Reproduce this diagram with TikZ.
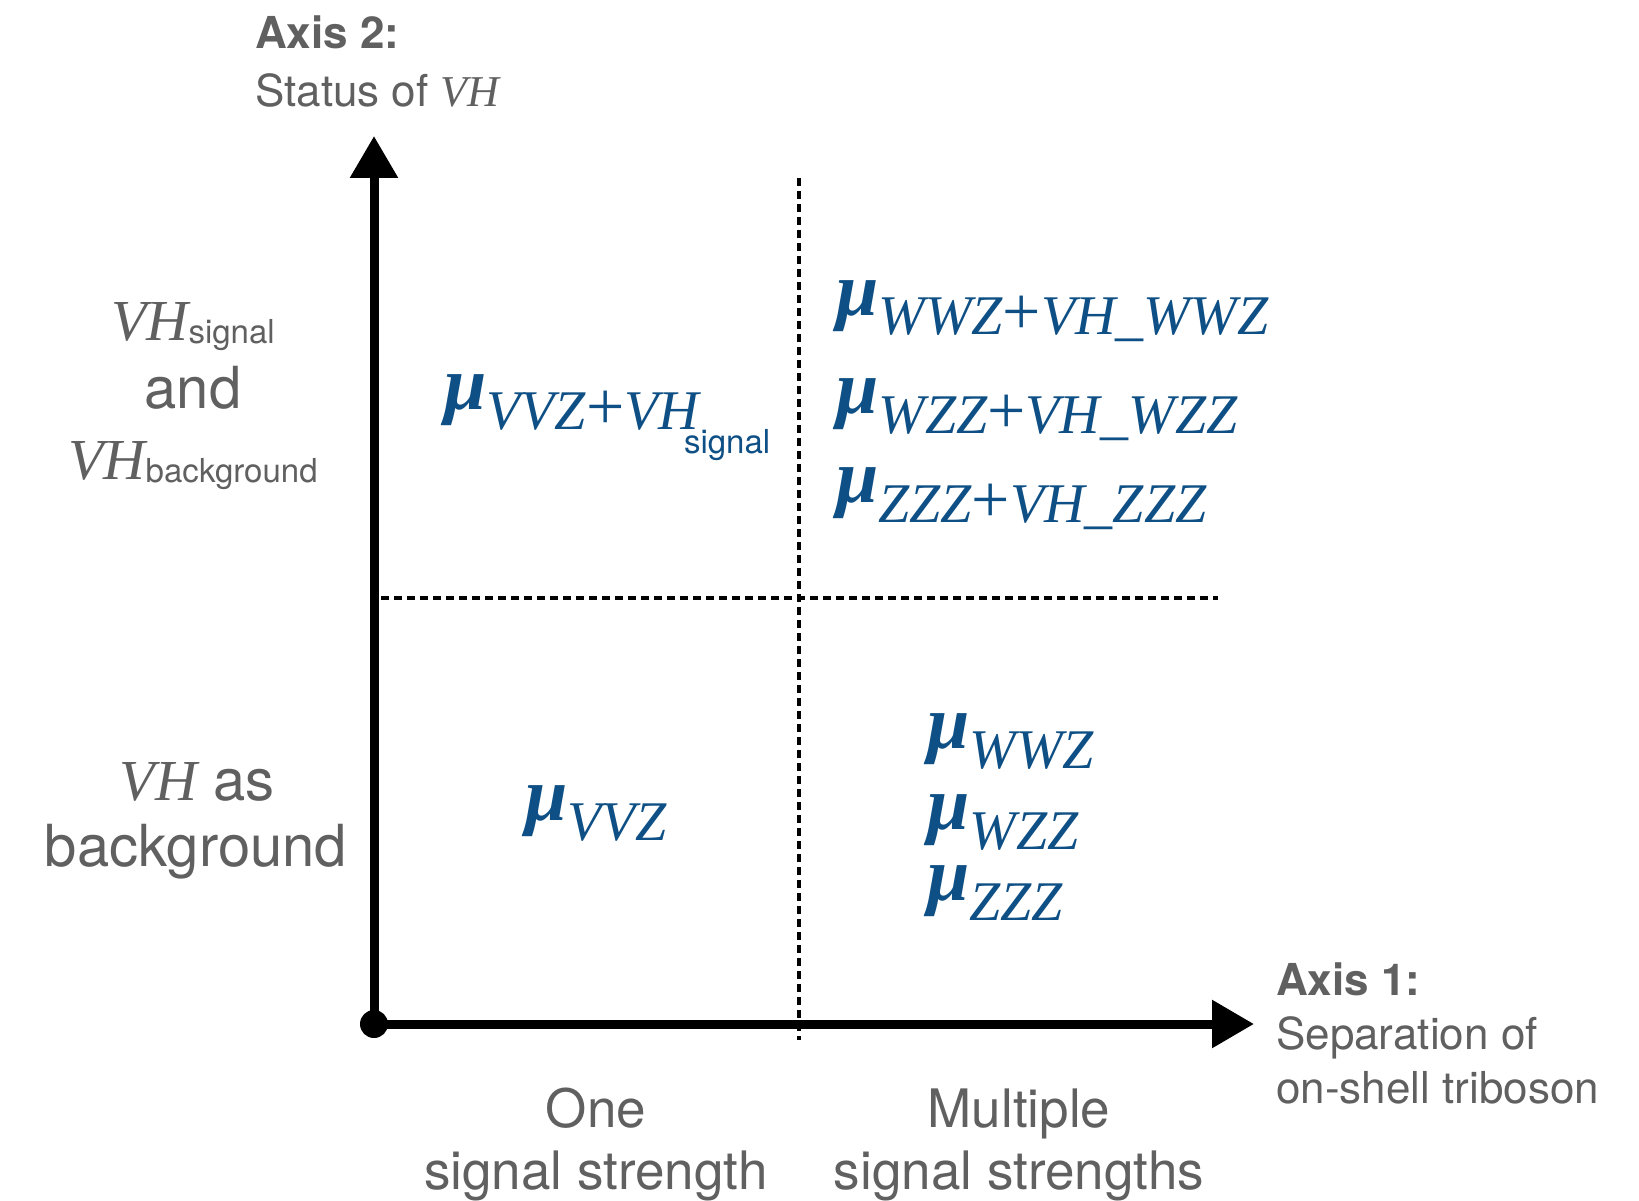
\documentclass[tikz,border=0pt]{standalone}
\usepackage{fontspec}
\setmainfont{TeX Gyre Heros}
\newfontfamily\timesit{Liberation Serif}
\usetikzlibrary{arrows.meta}
\definecolor{txtgray}{HTML}{606060}
\definecolor{mublue}{HTML}{0E4F85}
\newcommand\fsz[1]{\fontsize{#1}{#1}\selectfont}
\newcommand\itm[1]{{\timesit\itshape #1}}
\newcommand\pl{{\timesit\upshape\fsz{68}+}}
\newcommand\mulab[1]{{\fsz{76}\timesit\bfseries\itshape μ}\raisebox{-20pt}{\fsz{56}\itm{#1}}}
\begin{document}
\begin{tikzpicture}[x=1pt,y=-1pt,
  lbl/.style={text=txtgray, inner sep=0pt, font=\fsz{44}},
  big/.style={text=txtgray, inner sep=0pt, font=\fsz{58}},
  bot/.style={text=txtgray, inner sep=0pt, font=\fsz{53}, anchor=base},
  mu/.style={text=mublue, inner sep=0pt, anchor=base west},
  axisline/.style={line width=9pt, -{Triangle[length=42pt,width=46pt]}},
  gridline/.style={line width=3.6pt, dash pattern=on 8pt off 5pt}]
\useasboundingbox[fill=white] (0,0) rectangle (1639,1201);

% axis 2 label
\node[lbl, anchor=base west, font=\fsz{44}\bfseries] (ax2a) at (255,49) {Axis 2:};
\node[lbl, anchor=base west] (ax2b) at (255,107) {Status of \itm{VH}};

% axis 1 label
\node[lbl, anchor=base west, font=\fsz{44}\bfseries] (ax1a) at (1276,995) {Axis 1:};
\node[lbl, anchor=base west] (ax1b) at (1276,1049) {Separation of};
\node[lbl, anchor=base west] (ax1c) at (1276,1103) {on-shell triboson};

% left labels
\node[big, anchor=base] (vhs) at (193,340) {\itm{VH}\raisebox{-3pt}{\fsz{33}signal}};
\node[big, anchor=base] (and) at (193,408) {and};
\node[big, anchor=base] (vhb) at (193,479) {\itm{VH}\raisebox{-3pt}{\fsz{33}background}};
\node[big, anchor=base] (vhas) at (197,800) {\itm{VH} as};
\node[big, anchor=base] (bg) at (196,866) {background};

% bottom labels
\node[bot] (one) at (596,1127) {One};
\node[bot] (one2) at (596,1189) {signal strength};
\node[bot] (mult) at (1019,1127) {Multiple};
\node[bot] (mult2) at (1019,1189) {signal strengths};

% axes
\coordinate (ytip) at (374,136);
\coordinate (xtip) at (1254,1024);
\node[circle, fill=black, minimum size=28pt, inner sep=0pt] (O) at (374,1024) {};
\draw[axisline] (O.center) -- (ytip);
\draw[axisline] (O.center) -- (xtip);

% dotted dividers
\coordinate (v1) at (799,178);
\coordinate (v2) at (799,1040);
\coordinate (h1) at (381,598);
\coordinate (h2) at (1218,598);
\draw[gridline] (v1) -- (v2);
\draw[gridline] (h1) -- (h2);

% signal strengths
\node[mu] (m1) at (444,409) {\mulab{VVZ\pl VH}\hspace{-15pt}\raisebox{-44pt}{\fsz{33}signal}};
\node[mu] (m2) at (525,820) {\mulab{VVZ}};
\node[mu] (m3) at (836,315) {\mulab{WWZ\pl VH\_WWZ}};
\node[mu] (m4) at (836,413) {\mulab{WZZ\pl VH\_WZZ}};
\node[mu] (m5) at (836,502) {\mulab{ZZZ\pl VH\_ZZZ}};
\node[mu] (m6) at (927,748) {\mulab{WWZ}};
\node[mu] (m7) at (927,829) {\mulab{WZZ}};
\node[mu] (m8) at (927,900) {\mulab{ZZZ}};
\end{tikzpicture}
\end{document}
